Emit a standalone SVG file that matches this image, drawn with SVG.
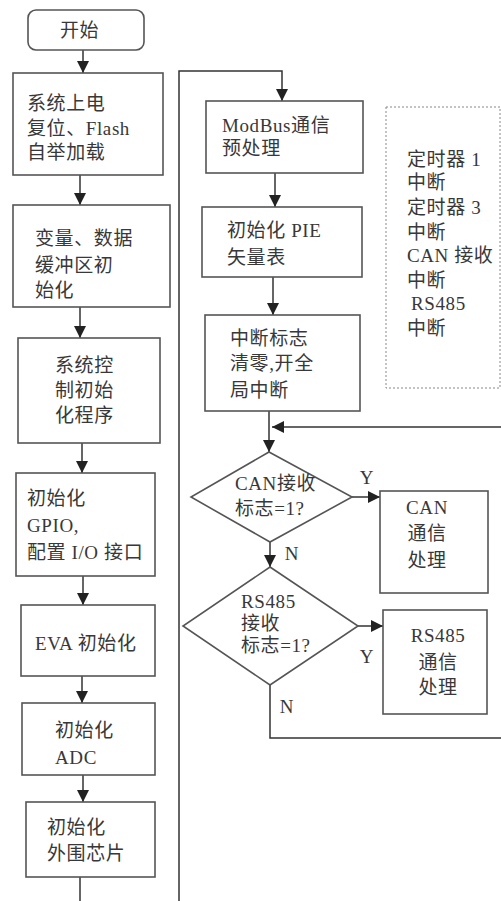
<svg xmlns="http://www.w3.org/2000/svg" width="501" height="901" viewBox="0 0 501 901">
<style>
.box{fill:#fff;stroke:#555;stroke-width:1.6}
.ln{fill:none;stroke:#333;stroke-width:1.5}
.t{font-family:"Liberation Serif","Noto Sans CJK SC",serif;font-size:19px;fill:#383838;letter-spacing:0.6px}
.m{text-anchor:middle}
</style>
<defs>
<marker id="ah" markerUnits="userSpaceOnUse" markerWidth="12" markerHeight="12" viewBox="0 0 12 12" refX="12" refY="6" orient="auto">
<path d="M0,0 L12,6 L0,12 Z" fill="#222"/>
</marker>
</defs>
<rect width="501" height="901" fill="#fff"/>
<g id="connectors">
<line class="ln" x1="83" y1="50" x2="83" y2="73" marker-end="url(#ah)"/>
<line class="ln" x1="80" y1="175" x2="80" y2="205" marker-end="url(#ah)"/>
<line class="ln" x1="80" y1="307" x2="80" y2="338" marker-end="url(#ah)"/>
<line class="ln" x1="82" y1="443" x2="82" y2="473" marker-end="url(#ah)"/>
<line class="ln" x1="83" y1="576" x2="83" y2="605" marker-end="url(#ah)"/>
<line class="ln" x1="82" y1="676" x2="82" y2="703" marker-end="url(#ah)"/>
<line class="ln" x1="83" y1="775" x2="83" y2="802" marker-end="url(#ah)"/>
<line class="ln" x1="80" y1="877" x2="80" y2="901"/>
<polyline class="ln" points="179,901 179,71 282,71 282,101" marker-end="url(#ah)"/>
<line class="ln" x1="275" y1="173" x2="275" y2="207" marker-end="url(#ah)"/>
<line class="ln" x1="273" y1="277" x2="273" y2="315" marker-end="url(#ah)"/>
<line class="ln" x1="269" y1="411" x2="269" y2="452" marker-end="url(#ah)"/>
<line class="ln" x1="501" y1="427" x2="272" y2="427" marker-end="url(#ah)"/>
<line class="ln" x1="352" y1="497" x2="380" y2="497" marker-end="url(#ah)"/>
<line class="ln" x1="270" y1="542" x2="270" y2="567" marker-end="url(#ah)"/>
<line class="ln" x1="358" y1="626" x2="383" y2="626" marker-end="url(#ah)"/>
<polyline class="ln" points="270,685 270,738 501,738"/>
<text class="t m" x="367" y="484">Y</text>
<text class="t m" x="292" y="560">N</text>
<text class="t m" x="367" y="663">Y</text>
<text class="t m" x="287" y="713">N</text>
</g>
<g id="start">
<rect class="box" x="28" y="10" width="116" height="40" rx="8"/>
<text class="t" x="60" y="37">开始</text>
</g>
<g id="n1">
<rect class="box" x="13" y="73" width="150" height="102"/>
<text class="t" x="27" y="110">系统上电</text>
<text class="t" x="27" y="135">复位、Flash</text>
<text class="t" x="27" y="159">自举加载</text>
</g>
<g id="n2">
<rect class="box" x="13" y="205" width="157" height="102"/>
<text class="t" x="35" y="245">变量、数据</text>
<text class="t" x="35" y="272">缓冲区初</text>
<text class="t" x="35" y="297">始化</text>
</g>
<g id="n3">
<rect class="box" x="18" y="338" width="142" height="105"/>
<text class="t" x="55" y="372">系统控</text>
<text class="t" x="55" y="397">制初始</text>
<text class="t" x="55" y="422">化程序</text>
</g>
<g id="n4">
<rect class="box" x="16" y="473" width="139" height="103"/>
<text class="t" x="27" y="505">初始化</text>
<text class="t" x="27" y="532">GPIO,</text>
<text class="t" x="27" y="559">配置 I/O 接口</text>
</g>
<g id="n5">
<rect class="box" x="21" y="605" width="134" height="71"/>
<text class="t" x="35" y="650">EVA 初始化</text>
</g>
<g id="n6">
<rect class="box" x="22" y="703" width="133" height="72"/>
<text class="t" x="55" y="737">初始化</text>
<text class="t" x="55" y="764">ADC</text>
</g>
<g id="n7">
<rect class="box" x="26" y="802" width="129" height="75"/>
<text class="t" x="47" y="834">初始化</text>
<text class="t" x="47" y="860">外围芯片</text>
</g>
<g id="modbus">
<rect class="box" x="206" y="101" width="157" height="72"/>
<text class="t" x="222" y="132">ModBus通信</text>
<text class="t" x="222" y="155">预处理</text>
</g>
<g id="pie">
<rect class="box" x="202" y="207" width="160" height="70"/>
<text class="t" x="227" y="237">初始化 PIE</text>
<text class="t" x="227" y="264">矢量表</text>
</g>
<g id="intclr">
<rect class="box" x="205" y="315" width="155" height="96"/>
<text class="t" x="230" y="345">中断标志</text>
<text class="t" x="230" y="370">清零,开全</text>
<text class="t" x="230" y="397">局中断</text>
</g>
<g id="interrupts">
<rect x="386" y="107" width="114" height="281" fill="#fff" stroke="#888" stroke-width="1" stroke-dasharray="2,2"/>
<text class="t" x="407" y="166">定时器 1</text>
<text class="t" x="407" y="189">中断</text>
<text class="t" x="407" y="214">定时器 3</text>
<text class="t" x="407" y="239">中断</text>
<text class="t" x="407" y="262">CAN 接收</text>
<text class="t" x="407" y="287">中断</text>
<text class="t" x="411" y="310">RS485</text>
<text class="t" x="407" y="335">中断</text>
</g>
<g id="dcan">
<polygon class="box" points="269,452 352,497 270,542 191,497"/>
<text class="t" x="235" y="490">CAN接收</text>
<text class="t" x="235" y="515">标志=1?</text>
</g>
<g id="can">
<rect class="box" x="380" y="491" width="108" height="102"/>
<text class="t m" x="427" y="514">CAN</text>
<text class="t m" x="427" y="540">通信</text>
<text class="t m" x="427" y="567">处理</text>
</g>
<g id="drs">
<polygon class="box" points="270,567 358,626 270,685 183,626"/>
<text class="t" x="241" y="608">RS485</text>
<text class="t" x="241" y="630">接收</text>
<text class="t" x="241" y="652">标志=1?</text>
</g>
<g id="rs485">
<rect class="box" x="383" y="610" width="104" height="104"/>
<text class="t m" x="438" y="642">RS485</text>
<text class="t m" x="438" y="669">通信</text>
<text class="t m" x="438" y="694">处理</text>
</g>
</svg>
